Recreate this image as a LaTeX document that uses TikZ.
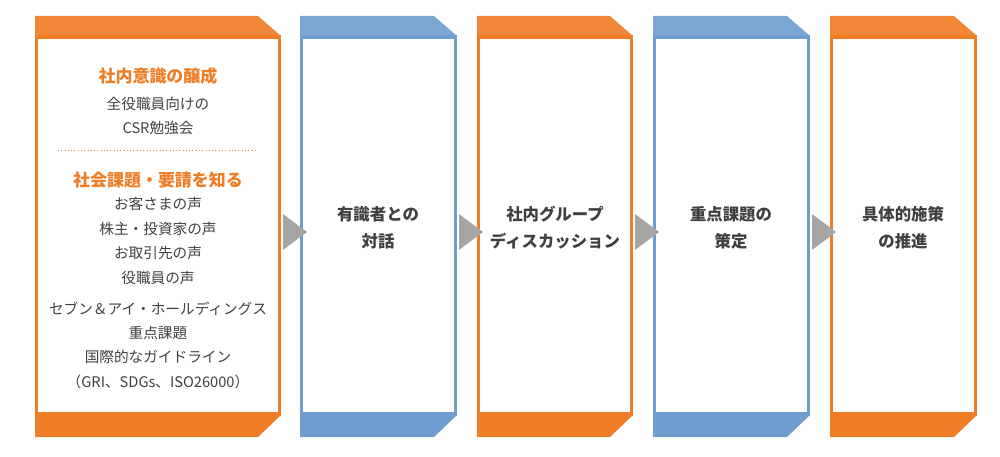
\documentclass[tikz,border=0pt]{standalone}
\usepackage{fontspec}
\setmainfont{Noto Sans CJK JP}
\usepackage{xcolor}
\usetikzlibrary{positioning}
\definecolor{csrorange}{RGB}{238,125,38}
\definecolor{csrblue}{RGB}{112,157,208}
\definecolor{csrgray}{RGB}{64,64,64}
\definecolor{arrowgray}{RGB}{165,165,165}
\tikzset{
  head/.style={font=\fontsize{14.5}{16}\selectfont\bfseries, text=csrorange, inner sep=0pt},
  body/.style={font=\fontsize{12.5}{20.8}\selectfont, text=csrgray, align=center, inner sep=0pt},
  stagetext/.style={font=\fontsize{14}{23}\selectfont\bfseries, text=csrgray, align=center, inner sep=0pt}
}
% stage frame: left x, right x, colour
\newcommand{\stageframe}[3]{%
  \fill[#3!92!white] (#1,16) -- (#2-23,16) -- (#2,36) -- (#1,36) -- cycle;
  \fill[#3] (#1,415) -- (#2,415) -- (#2-23,437) -- (#1,437) -- cycle;
  \draw[#3, line width=2.6pt] (#1+1.5,37) rectangle (#2-1.5,414);
}
\newcommand{\stagearrow}[1]{%
  \fill[arrowgray] (#1,214) -- (#1+24,232) -- (#1,250) -- cycle;
}
\begin{document}
\begin{tikzpicture}[x=0.03cm, y=-0.03cm]
\useasboundingbox (0,0) rectangle (1000,457);
% Frames
\stageframe{35}{281}{csrorange}
\stageframe{300}{457}{csrblue}
\stageframe{477}{633}{csrorange}
\stageframe{653}{810}{csrblue}
\stageframe{830}{977}{csrorange}
% Arrows
\foreach \ax in {283,459,635,812} {\stagearrow{\ax}}
% First stage texts
\node[head] (awareness) at (158,76) {社内意識の醸成};
\node[body] (training) at (158,116) {全役職員向けの\\CSR勉強会};
\draw[csrorange, dotted, line width=0.8pt] (58,150) -- (258,150);
\node[head] (issues) at (158,180) {社会課題・要請を知る};
\node[body] (voices) at (158,241) {お客さまの声\\株主・投資家の声\\お取引先の声\\役職員の声};
\node[body] (guides) at (158,345) {セブン＆アイ・ホールディングス\\重点課題\\国際的なガイドライン\\（GRI、SDGs、ISO26000）};
% Other stages
\node[stagetext] (dialogue) at (378,228) {有識者との\\対話};
\node[stagetext] (discussion) at (555,228) {社内グループ\\ディスカッション};
\node[stagetext] (priority) at (731,228) {重点課題の\\策定};
\node[stagetext] (measures) at (903,228) {具体的施策\\の推進};
\end{tikzpicture}
\end{document}
